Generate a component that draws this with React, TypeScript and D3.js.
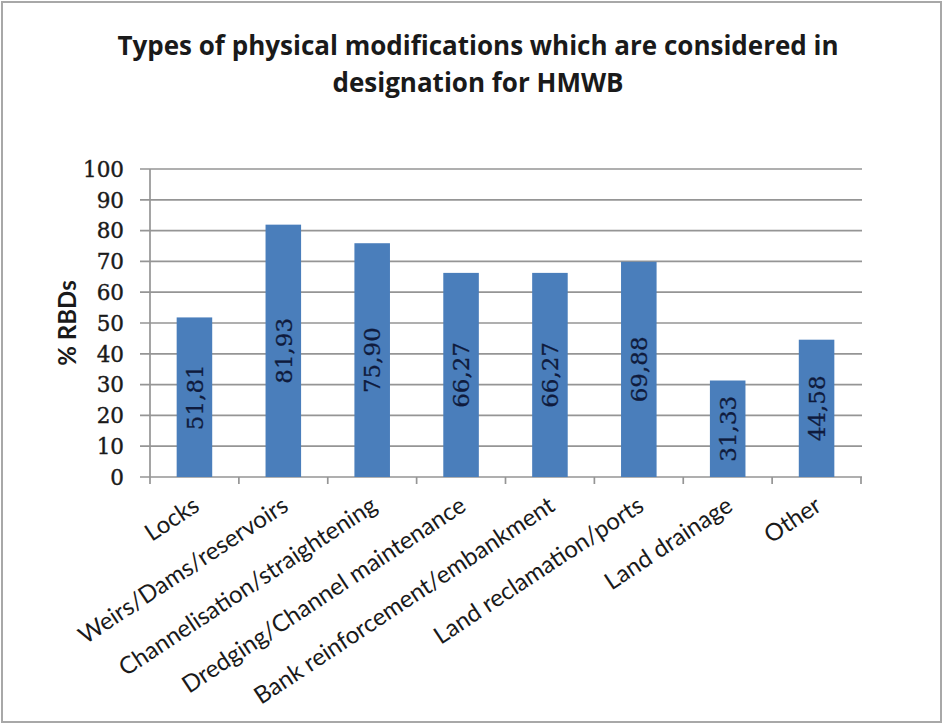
import React from "react";
import * as d3 from "d3";

const categories = [
  "Locks",
  "Weirs/Dams/reservoirs",
  "Channelisation/straightening",
  "Dredging/Channel maintenance",
  "Bank reinforcement/embankment",
  "Land reclamation/ports",
  "Land drainage",
  "Other",
];
const values = [51.81, 81.93, 75.9, 66.27, 66.27, 69.88, 31.33, 44.58];
const valueLabels = ["51,81", "81,93", "75,90", "66,27", "66,27", "69,88", "31,33", "44,58"];
const yTicks = [0, 10, 20, 30, 40, 50, 60, 70, 80, 90, 100];
const titleLines = ["Types of physical modifications which are considered in", "designation for HMWB"];
const yAxisTitle = "% RBDs";

const W = 943;
const H = 724;
const plot = { left: 150, right: 861, top: 169, bottom: 477 };

export default function App() {
  const x = d3
    .scaleBand<string>()
    .domain(categories)
    .range([plot.left, plot.right])
    .paddingInner(0.6)
    .paddingOuter(0.3);
  const y = d3.scaleLinear().domain([0, 100]).range([plot.bottom, plot.top]);
  const step = (plot.right - plot.left) / categories.length;
  const grid = "#959595";
  const labelAngle = -33.5;

  return (
    <svg
      width={W}
      height={H}
      style={{ position: "absolute", left: 0, top: 0, background: "#fff" }}
    >
      <rect x={0} y={0} width={W} height={H} fill="#fff" />
      <rect x={2} y={2} width={W - 4} height={H - 4} fill="none" stroke="#a8a8a8" strokeWidth={2} />

      {/* title */}
      <g fontFamily="'Open Sans', Lato, sans-serif" fontWeight="bold" fontSize={26} fill="#1a1a1a" textAnchor="middle">
        {titleLines.map((t, i) => (
          <text key={i} x={478} y={55 + i * 37}>
            {t}
          </text>
        ))}
      </g>

      {/* gridlines and y ticks */}
      {yTicks.map((t) => (
        <g key={t}>
          <line x1={plot.left - 10} x2={plot.right + 1} y1={y(t)} y2={y(t)} stroke={grid} strokeWidth={1.7} />
          <text
            x={124}
            y={y(t)}
            dy="0.36em"
            textAnchor="end"
            fontFamily="'DejaVu Serif', serif"
            fontSize={21.5}
            fill="#1a1a1a"
            stroke="#1a1a1a"
            strokeWidth={0.4}
          >
            {t}
          </text>
        </g>
      ))}
      <line x1={plot.left} x2={plot.left} y1={plot.top} y2={plot.bottom} stroke={grid} strokeWidth={1.7} />

      {/* x ticks */}
      {d3.range(categories.length + 1).map((i) => (
        <line
          key={i}
          x1={plot.left + i * step}
          x2={plot.left + i * step}
          y1={plot.bottom}
          y2={plot.bottom + 7}
          stroke={grid}
          strokeWidth={1.7}
        />
      ))}

      {/* y axis title */}
      <text
        transform={`translate(67,323) rotate(-90)`}
        textAnchor="middle"
        dy="0.36em"
        fontFamily="Lato, 'Open Sans', sans-serif"
        fontWeight="bold"
        fontSize={24}
        fill="#1a1a1a"
      >
        {yAxisTitle}
      </text>

      {/* bars */}
      {categories.map((c, i) => (
        <rect
          key={c}
          x={x(c)}
          y={y(values[i])}
          width={x.bandwidth()}
          height={y(0) - y(values[i])}
          fill="#4a7ebb"
        />
      ))}

      {/* value labels */}
      {categories.map((c, i) => {
        const cx = (x(c) as number) + x.bandwidth() / 2;
        const cy = (y(values[i]) + y(0)) / 2;
        return (
          <text
            key={c}
            transform={`translate(${cx},${cy}) rotate(-90)`}
            textAnchor="middle"
            dy="0.36em"
            fontFamily="'DejaVu Serif', serif"
            fontSize={23}
            fill="#0f1b3d"
            stroke="#0f1b3d"
            strokeWidth={0.3}
          >
            {valueLabels[i]}
          </text>
        );
      })}

      {/* category labels */}
      {categories.map((c) => {
        const cx = (x(c) as number) + x.bandwidth() / 2;
        return (
          <text
            key={c}
            transform={`translate(${cx - 3},${plot.bottom + 18}) rotate(${labelAngle})`}
            textAnchor="end"
            dy="0.72em"
            fontFamily="Lato, 'Open Sans', sans-serif"
            fontSize={24}
            fill="#1a1a1a"
          >
            {c}
          </text>
        );
      })}
    </svg>
  );
}
